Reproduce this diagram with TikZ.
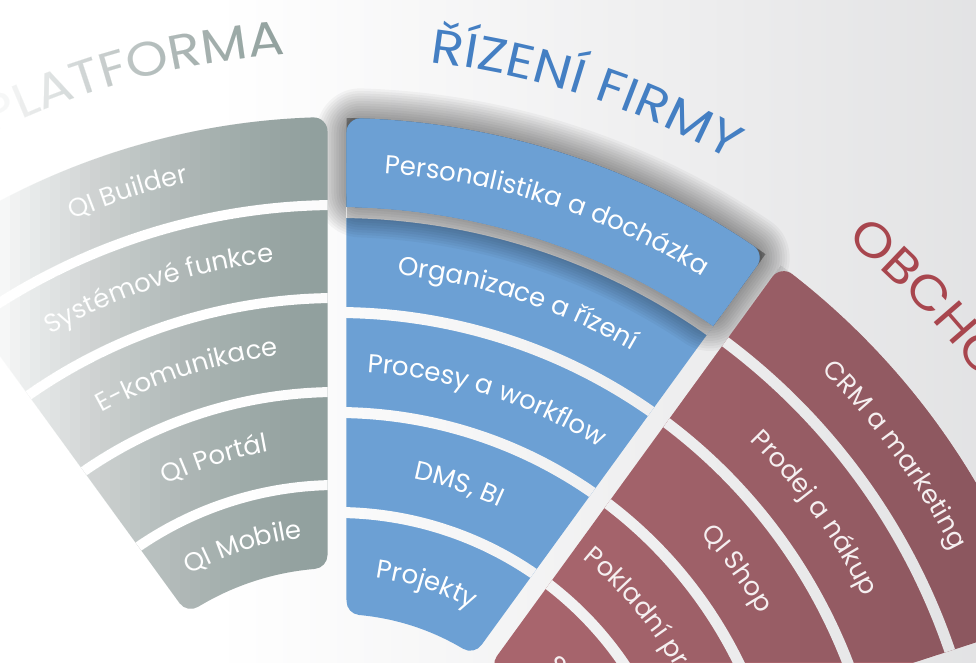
\documentclass[tikz,border=0pt]{standalone}
\usepackage{fontspec}
\setmainfont{Poppins}
\newfontfamily\ttlfamily[FakeStretch=1.12]{Poppins}
\usetikzlibrary{decorations.text}
\definecolor{bluefill}{HTML}{6CA0D4}
\definecolor{redfill}{HTML}{A8656D}
\definecolor{grayfill}{HTML}{8F9E9C}
\definecolor{bluetitle}{HTML}{447FC3}
\definecolor{redtitle}{HTML}{A8464E}
\definecolor{graytitle}{HTML}{8A9B98}
\definecolor{redtext}{HTML}{F5EFF0}
\definecolor{bgmid}{HTML}{EDEDEE}
\definecolor{bgend}{HTML}{D0D1D3}
\pgfdeclarehorizontalshading{bgshade}{100bp}{color(0bp)=(white); color(36bp)=(white); color(61bp)=(bgmid); color(100bp)=(bgend)}
% annular sector: r1, r2, theta low, theta high, side offset
\newcommand\annsec[5]{({#4-asin(#5/#2)}:#2) arc[start angle={#4-asin(#5/#2)}, end angle={#3+asin(#5/#2)}, radius=#2] -- ({#3+asin(#5/#1)}:#1) arc[start angle={#3+asin(#5/#1)}, end angle={#4-asin(#5/#1)}, radius=#1] -- cycle}
% plain annular sector: r1, r2, theta low, theta high
\newcommand\gapsec[4]{({#4}:#2) arc[start angle={#4}, end angle={#3}, radius=#2] -- ({#3}:#1) arc[start angle={#3}, end angle={#4}, radius=#1] -- cycle}
\newcommand\lblfont{\fontsize{26}{28}\selectfont}
\newcommand\ttlfont{\ttlfamily\fontsize{48}{50}\selectfont}
\newcommand\arclabel[4]{\path[decorate, decoration={text along path, text align=center, text color=#1, text={|\lblfont|#4}}] ({#3+28}:#2) arc[start angle={#3+28}, end angle={#3-28}, radius=#2];}
\newcommand\bandhalo{\foreach \k in {1,...,12}{\pgfmathsetmacro\lw{28+5*\k}
  \draw[black, draw opacity=0.035, line width=\lw pt, line join=round] \annsec{667}{728}{54}{90}{23.5};}}
\begin{document}
\begin{tikzpicture}[x=1pt,y=1pt]
\useasboundingbox (0,0) rectangle (976,662);
\clip (0,0) rectangle (976,662);
\shade[shading=bgshade] (0,0) rectangle (976,662);
% halo of the lifted top band
\begin{scope}[shift={(337,-198)}]
\bandhalo
\end{scope}
% ---------- gray sector (PLATFORMA)
\begin{scope}[shift={(337,-174)}]
\filldraw[grayfill, line width=28pt, line join=round] \annsec{282}{705}{90}{126}{23.5};
\end{scope}
\begin{scope}
\clip[shift={(337,-174)}] \annsec{268}{719}{90}{126}{9.5};
\clip[shift={(337,-174)}] \gapsec{626}{636}{85}{131} \gapsec{533}{543}{85}{131} \gapsec{439}{449}{85}{131} \gapsec{346}{356}{85}{131};
\shade[shading=bgshade] (0,0) rectangle (976,662);
\end{scope}
% ---------- red sector (OBCHOD)
\begin{scope}[shift={(337,-198)}]
\filldraw[redfill, line width=28pt, line join=round] \annsec{260}{728}{18}{54}{23.5};
\end{scope}
\begin{scope}
\clip[shift={(337,-198)}] \annsec{246}{742}{18}{54}{9.5};
\foreach \k in {0,...,13}{\fill[black, fill opacity=0.007] ({560+30*\k},0) rectangle (976,662);}
\end{scope}
\begin{scope}
\clip[shift={(337,-198)}] \annsec{246}{742}{18}{54}{9.5};
\clip[shift={(337,-198)}] \gapsec{642}{653}{13}{59} \gapsec{542}{553}{13}{59} \gapsec{442}{453}{13}{59} \gapsec{342}{353}{13}{59};
\shade[shading=bgshade] (0,0) rectangle (976,662);
\end{scope}
% ---------- blue sector (RIZENI FIRMY)
\begin{scope}[shift={(337,-198)}]
\filldraw[bluefill, line width=28pt, line join=round] \annsec{260}{728}{54}{90}{23.5};
\end{scope}
\begin{scope}
\clip[shift={(337,-198)}] \annsec{246}{742}{54}{90}{9.5};
\clip[shift={(337,-198)}] \gapsec{642}{653}{49}{95} \gapsec{542}{553}{49}{95} \gapsec{442}{453}{49}{95} \gapsec{342}{353}{49}{95};
\shade[shading=bgshade] (0,0) rectangle (976,662);
\end{scope}
% shadow of the lifted band onto the blue sector
\begin{scope}
\clip[shift={(337,-198)}] \annsec{246}{742}{54}{90}{9.5};
\begin{scope}[shift={(337,-198)}]
\bandhalo
\end{scope}
\end{scope}
% lifted top band
\begin{scope}[shift={(337,-198)}]
\filldraw[bluefill, line width=28pt, line join=round] \annsec{667}{728}{54}{90}{23.5};
\fill[bluefill] \annsec{653}{697}{54}{90}{9.5};
\end{scope}
% ---------- labels
\begin{scope}[shift={(337,-198)}]
\arclabel{white}{688.5}{72}{Personalistika a docházka}
\arclabel{white}{588.5}{72}{Organizace a řízení}
\arclabel{white}{488.5}{72}{Procesy a workflow}
\arclabel{white}{388.5}{72}{DMS, BI}
\arclabel{white}{285}{72}{Projekty}
\arclabel{redtext}{688.5}{36}{CRM a marketing}
\arclabel{redtext}{588.5}{36}{Prodej a nákup}
\arclabel{redtext}{488.5}{36}{QI Shop}
\arclabel{redtext}{388.5}{36}{Pokladní prodej}
\arclabel{redtext}{285}{36}{Sklad}
\path[decorate, decoration={text along path, text align=center, text color=bluetitle, text={|\ttlfont|ŘÍZENÍ FIRMY}}] (104:803) arc[start angle=104, end angle=40, radius=803];
\path[decorate, decoration={text along path, text align=left, text color=redtitle, text={|\ttlfont|OBCHOD}}] (50.6:803) arc[start angle=50.6, end angle=0, radius=803];
\end{scope}
\begin{scope}[shift={(337,-174)}]
\arclabel{white}{670.5}{108}{QI Builder}
\arclabel{white}{577.5}{108}{Systémové funkce}
\arclabel{white}{484}{108}{E-komunikace}
\arclabel{white}{390.5}{108}{QI Portál}
\arclabel{white}{300}{108}{QI Mobile}
\path[decorate, decoration={text along path, text align=right, text color=graytitle, text={|\ttlfont|PLATFORMA}}] (140:783) arc[start angle=140, end angle=93.8, radius=783];
\end{scope}
% ---------- fade to white on the left
\foreach \k in {0,...,33}{
  \pgfmathsetmacro\Ta{0.96*((5+10*\k)/340)^1.35}
  \pgfmathsetmacro\Tb{(\k>0)*0.96*((5+10*max(\k-1,0))/340)^1.35}
  \pgfmathsetmacro\al{1-(1-\Ta)/(1-\Tb)}
  \fill[white, fill opacity=\al] (0,0) rectangle ({340-10*\k},662);
}
\end{tikzpicture}
\end{document}
